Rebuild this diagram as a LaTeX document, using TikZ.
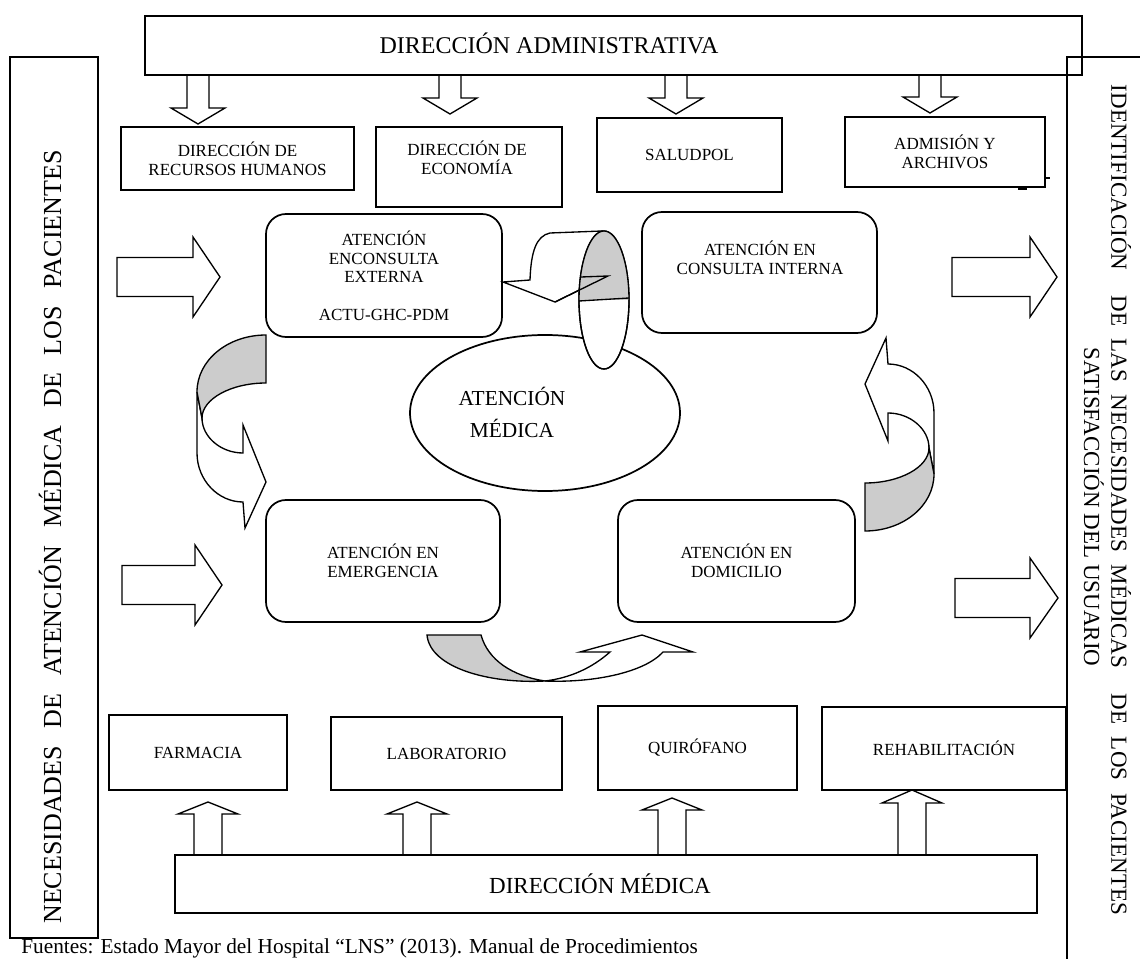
\documentclass[tikz,border=0pt]{standalone}
\usepackage{fontspec}
\setmainfont{Liberation Serif}
\usetikzlibrary{shapes.geometric}
\tikzset{
  box/.style={draw, line width=1.3pt, inner sep=0pt, align=center, font=\fontsize{12.75}{14}\selectfont},
  rbox/.style={box, rounded corners=15pt},
  lbl/.style={inner sep=0pt, align=center, font=\fontsize{12.75}{14}\selectfont},
  blk/.style={draw, line width=1pt, fill=white, line join=miter},
  face/.style={draw, line width=1pt, fill=black!20, line join=miter},
  stub/.style={line width=0.8pt},
}
\newcommand\bx[7][]{\node[box,minimum width={(#5-#3)*0.75pt},minimum height={(#6-#4)*0.75pt},#1] (#2) at ({(#3+#5)/2},{(#4+#6)/2}) {#7};}
\newcommand\darr[4]{\draw[blk] ({#1-11},#2) -- ({#1-11},#3) -- ({#1-27},#3) -- (#1,#4) -- ({#1+27},#3) -- ({#1+11},#3) -- ({#1+11},#2);}
\newcommand\uarr[4]{\draw[blk] ({#1-14},#2) -- ({#1-14},#3) -- ({#1-30},#3) -- (#1,#4) -- ({#1+30},#3) -- ({#1+14},#3) -- ({#1+14},#2);}
\newcommand\rarr[4]{\draw[blk] (#1,{#4-19.5}) -- (#2,{#4-19.5}) -- (#2,{#4-40}) -- (#3,#4) -- (#2,{#4+40}) -- (#2,{#4+19.5}) -- (#1,{#4+19.5}) -- cycle;}
\newcommand\sidecurve{%
  \draw[blk] (197,392) -- (197,453) .. controls (197,480) and (218,502) .. (243,502) -- (245,528) -- (266,482) -- (243,425) -- (243,453) .. controls (221,453) and (202,437) .. (202,418) -- cycle;
  \draw[face] (266,335) .. controls (228,335) and (197,360) .. (197,392) -- (202,418) .. controls (202,399) and (231,383) .. (266,383) -- cycle;}
\begin{document}
\begin{tikzpicture}[x=0.75pt,y=-0.75pt]
\useasboundingbox (0,0) rectangle (1140,959);

% arrows from the top box
\darr{198}{75}{108}{124}
\darr{450}{75}{98}{114}
\darr{676}{75}{98}{114}
\darr{930}{75}{97}{113}

% top box
\bx{dadm}{145}{16}{1082}{75}{}
\node[lbl, font=\fontsize{18}{20}\selectfont] (tadm) at (549,43) {DIRECCIÓN ADMINISTRATIVA};

% side boxes
\bx{lnec}{10}{57}{98}{938}{}
\node[rotate=90, inner sep=0pt, font=\fontsize{19.5}{22}\selectfont] (tnec) at (50,537) {\makebox[580pt][s]{NECESIDADES DE ATENCIÓN MÉDICA DE LOS PACIENTES}};
\bx{rid}{1067}{57}{1180}{1000}{}
\node[rotate=-90, inner sep=0pt, font=\fontsize{17.25}{18}\selectfont] (tid1) at (1121,500) {\makebox[622.5pt][s]{IDENTIFICACIÓN\ \ DE LAS NECESIDADES MÉDICAS\ \ DE LOS PACIENTES}};
\node[rotate=-90, inner sep=0pt, font=\fontsize{17.25}{18}\selectfont] (tid2) at (1094,507) {SATISFACCIÓN DEL USUARIO};

% sub boxes
\bx{drh}{121}{127}{354}{190}{DIRECCIÓN DE\\RECURSOS HUMANOS}
\bx{deco}{376}{127}{562}{207}{}
\node[lbl] (teco) at (467,158) {DIRECCIÓN DE\\ECONOMÍA};
\bx{dsal}{597}{118}{782}{192}{SALUDPOL}
\bx{dadmi}{845}{117}{1045}{187}{ADMISIÓN Y\\ARCHIVOS}
\draw[stub] (1045,178) -- (1050,178);
\draw[stub] (1018,189) -- (1027,189);

% input / output arrows
\rarr{117}{193}{220}{277}
\rarr{122}{195}{222}{585}
\rarr{952}{1030}{1057}{277}
\rarr{955}{1030}{1058}{598}

% central ellipse
\node[draw, ellipse, line width=1.3pt, fill=white, inner sep=0pt, minimum width=202.5pt, minimum height=117pt] (emed) at (545,413) {};
\node[lbl, font=\fontsize{16}{24}\selectfont] (temed) at (512,412) {ATENCIÓN\\MÉDICA};

% rounded boxes
\bx[rbox]{cext}{266}{214}{502}{337}{ATENCIÓN\\ENCONSULTA\\EXTERNA\\[14pt]ACTU-GHC-PDM}
\bx[rbox]{cint}{642}{212}{877}{333}{}
\node[lbl] (tcint) at (760,258) {ATENCIÓN EN\\CONSULTA INTERNA};
\bx[rbox]{emer}{266}{500}{500}{622}{ATENCIÓN EN\\EMERGENCIA}
\bx[rbox]{domi}{618}{500}{855}{622}{ATENCIÓN EN\\DOMICILIO}

% curved arrow on the cylinder (top)
\draw[blk] (602,231) -- (550,233) .. controls (536,236) and (531,252) .. (530,280) -- (503,282) -- (555,302) -- (608,276) -- (581,277) -- cycle;
\node[draw, ellipse, line width=1pt, fill=white, inner sep=0pt, minimum width=37.5pt, minimum height=103.5pt] (cyl) at (604,300) {};
\begin{scope}
  \clip (570,220) rectangle (640,300);
  \fill[black!20] (604,300) ellipse [x radius=25, y radius=69];
\end{scope}
\draw[line width=1pt] (cyl.center) ellipse [x radius=25, y radius=69];
\draw[line width=1pt] (579,301) -- (629,298);
\draw[line width=1pt, line join=miter] (555,302) -- (608,276) -- (581,277);

% left and right curved arrows
\sidecurve
\begin{scope}[rotate around={180:(565.5,433)}]
\sidecurve
\end{scope}

% bottom curved arrow
\draw[blk] (545,681) .. controls (595,683) and (645,672) .. (663,652) -- (693,652) -- (642,635) -- (580,652) -- (610,652) .. controls (592,668) and (570,678) .. (545,681) -- cycle;
\draw[face] (427,635) -- (481,635) .. controls (488,660) and (512,676) .. (545,681) .. controls (490,684) and (430,668) .. (427,635) -- cycle;

% bottom boxes
\uarr{208}{855}{814}{802}
\uarr{417}{855}{814}{802}
\uarr{672}{855}{810}{798}
\uarr{912}{855}{803}{790}
\bx{farm}{109}{715}{287}{790}{FARMACIA}
\bx{lab}{331}{717}{562}{790}{LABORATORIO}
\bx{quir}{598}{706}{797}{790}{QUIRÓFANO}
\bx{rehab}{822}{707}{1066}{790}{REHABILITACIÓN}

% bottom box
\bx{dmed}{175}{855}{1037}{913}{}
\node[lbl, font=\fontsize{17.25}{19}\selectfont] (tdmed) at (600,884) {DIRECCIÓN MÉDICA};

\node[anchor=base west, inner sep=0pt, font=\fontsize{16}{18}\selectfont] (fuente) at (21,953.5) {Fuentes: Estado Mayor del Hospital “LNS” (2013). Manual de Procedimientos};
\end{tikzpicture}
\end{document}
